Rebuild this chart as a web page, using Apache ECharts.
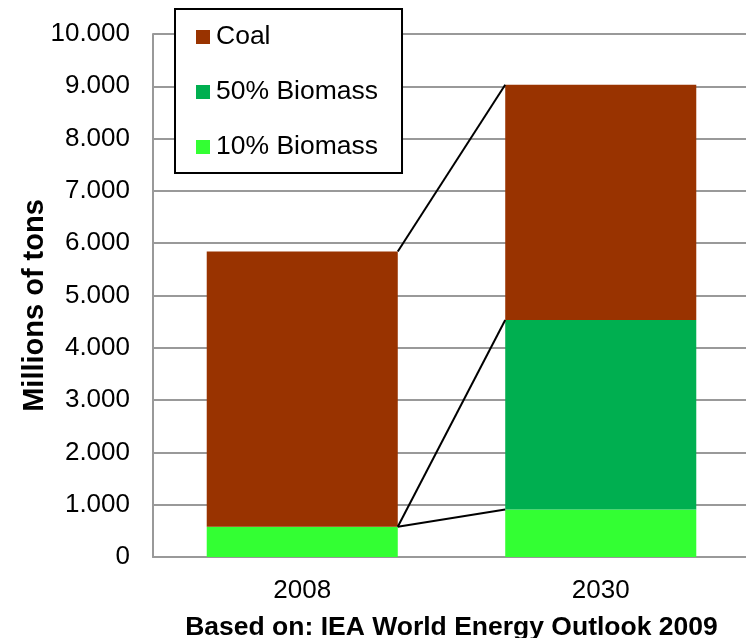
<!DOCTYPE html>
<html>
<head>
<meta charset="utf-8">
<script src="https://cdn.jsdelivr.net/npm/echarts@6/dist/echarts.min.js"></script>
<style>
  html, body { margin: 0; padding: 0; background: #fff; }
  #chart { width: 746px; height: 638px; }
</style>
</head>
<body>
<div id="chart"></div>
<script>
// Coal demand for power generation, millions of tons
const years = ['2008', '2030'];
const biomass10 = [580, 910];
const biomass50 = [0, 3620];
const coal = [5260, 4500];

const yTicks = { min: 0, max: 10000, step: 1000 };

const FONT = 'Arial, "Liberation Sans", sans-serif';
const BAR_SHARE = 0.64; // bar width as a share of the category band

// cumulative stack tops, used for the connector lines
const top10 = biomass10.slice();
const top50 = biomass10.map((v, i) => v + biomass50[i]);
const topCoal = top50.map((v, i) => v + coal[i]);

// each connector: [from category, from value, to category, to value]
const connectors = [
  [0, topCoal[0], 1, topCoal[1]],
  [0, top10[0], 1, top50[1]],
  [0, top10[0], 1, top10[1]]
];

const chart = echarts.init(document.getElementById('chart'), null, { renderer: 'canvas' });

function thousands(v) {
  return String(v).replace(/\B(?=(\d{3})+(?!\d))/g, '.');
}

chart.setOption({
  animation: false,
  backgroundColor: '#ffffff',
  textStyle: { fontFamily: FONT },
  grid: { left: 153, right: -4, top: 34, bottom: 81, containLabel: false, outerBoundsMode: 'none' },
  legend: {
    data: ['Coal', '50% Biomass', '10% Biomass'],
    orient: 'vertical',
    left: 175,
    top: 9,
    padding: [14, 24, 12, 21],
    itemGap: 27,
    itemWidth: 14,
    itemHeight: 14,
    icon: 'rect',
    borderColor: '#000000',
    borderWidth: 2,
    backgroundColor: '#ffffff',
    textStyle: { fontFamily: FONT, fontSize: 26.5, color: '#000', lineHeight: 28, padding: [0, 0, 0, 1] },
    selectedMode: false,
    z: 10
  },
  xAxis: {
    type: 'category',
    data: years,
    axisLine: { show: true, lineStyle: { color: '#999999', width: 2 } },
    axisTick: { show: false },
    axisLabel: { fontFamily: FONT, fontSize: 26, color: '#000', margin: 21 },
    name: 'Based on: IEA World Energy Outlook 2009',
    nameLocation: 'middle',
    nameGap: 57,
    nameMoveOverlap: false,
    nameTextStyle: { fontFamily: FONT, fontSize: 26.5, fontWeight: 'bold', color: '#000' }
  },
  yAxis: {
    type: 'value',
    min: yTicks.min,
    max: yTicks.max,
    interval: yTicks.step,
    axisLine: { show: true, lineStyle: { color: '#999999', width: 2 } },
    axisTick: { show: false },
    splitLine: { show: true, lineStyle: { color: '#999999', width: 2 } },
    axisLabel: { fontFamily: FONT, fontSize: 26, color: '#000', margin: 23, padding: [6, 0, 0, 0], formatter: thousands },
    name: 'Millions of tons',
    nameLocation: 'middle',
    nameGap: 104,
    nameMoveOverlap: false,
    nameTextStyle: { fontFamily: FONT, fontSize: 29, fontWeight: 'bold', color: '#000', padding: [0, 20, 0, 0] }
  },
  series: [
    {
      name: '10% Biomass', type: 'bar', stack: 'total', data: biomass10,
      barWidth: (BAR_SHARE * 100) + '%',
      itemStyle: { color: '#33FF33' }
    },
    {
      name: '50% Biomass', type: 'bar', stack: 'total', data: biomass50,
      barWidth: (BAR_SHARE * 100) + '%',
      itemStyle: { color: '#00AF50' }
    },
    {
      name: 'Coal', type: 'bar', stack: 'total', data: coal,
      barWidth: (BAR_SHARE * 100) + '%',
      itemStyle: { color: '#993300' }
    },
    {
      name: 'connectors',
      type: 'custom',
      data: connectors,
      z: 5,
      silent: true,
      encode: { x: 0, y: 1 },
      renderItem: function (params, api) {
        const band = api.size([1, 0])[0];
        const half = band * BAR_SHARE / 2;
        const a = api.coord([api.value(0), api.value(1)]);
        const b = api.coord([api.value(2), api.value(3)]);
        return {
          type: 'line',
          shape: { x1: a[0] + half, y1: a[1], x2: b[0] - half, y2: b[1] },
          style: { stroke: '#000000', lineWidth: 2 }
        };
      }
    }
  ]
});
</script>
</body>
</html>
